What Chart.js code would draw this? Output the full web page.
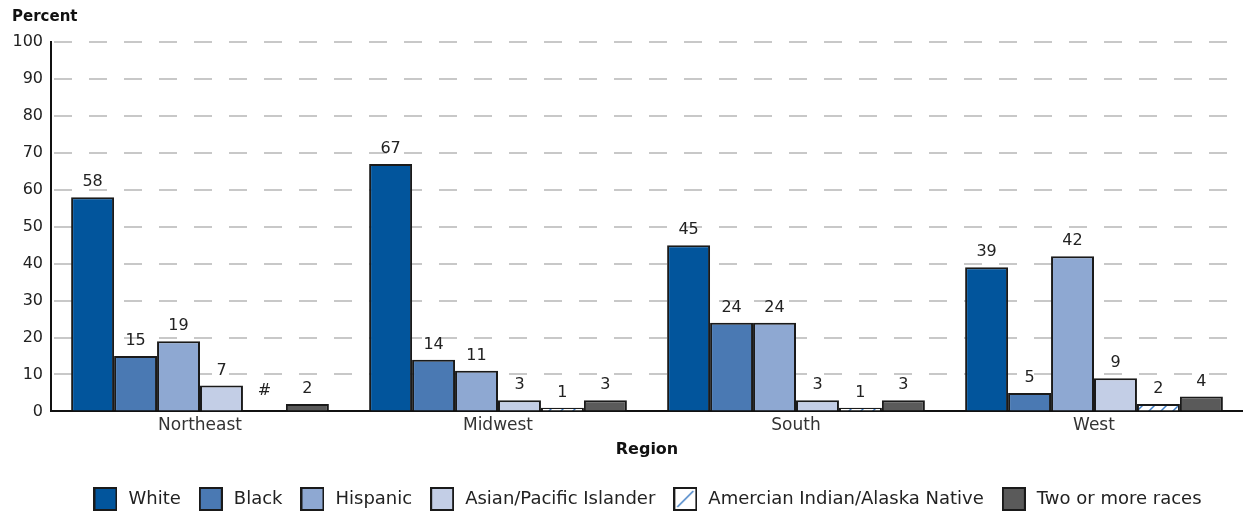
<!DOCTYPE html>
<html>
<head>
<meta charset="utf-8">
<script src="https://cdn.jsdelivr.net/npm/chart.js@4.4.0/dist/chart.umd.min.js"></script>
<style>
  html, body { margin: 0; padding: 0; background: #fff; }
  #wrap { width: 1243px; height: 514px; position: relative; }
</style>
</head>
<body>
<div id="wrap"><canvas id="myChart"></canvas></div>
<script>
// values
const regions = ["Northeast", "Midwest", "South", "West"];
const white = [58, 67, 45, 39];
const black = [15, 14, 24, 5];
const hispanic = [19, 11, 24, 42];
const asian = [7, 3, 3, 9];
const amIndian = [null, 1, 1, 2]; // null = "#", rounds to zero
const twoOrMore = [2, 3, 3, 4];
const yTicks = [0, 10, 20, 30, 40, 50, 60, 70, 80, 90, 100];

const seriesNames = ["White", "Black", "Hispanic", "Asian/Pacific Islander",
  "Amercian Indian/Alaska Native", "Two or more races"];
const seriesData = [white, black, hispanic, asian, amIndian, twoOrMore];
const colors = ["#02559c", "#4a79b3", "#8ea8d2", "#c3cee6", null, "#5a5a5a"];
const hatchBlue = "#3d7cc4";
const edge = "#1a1a1a";

Chart.defaults.font.family = "'DejaVu Sans', sans-serif";
Chart.defaults.color = "#222";

const ctx = document.getElementById("myChart").getContext("2d");

function makeHatch() {
  const c = document.createElement("canvas");
  c.width = 12; c.height = 12;
  const x = c.getContext("2d");
  x.fillStyle = "#fff";
  x.fillRect(0, 0, 12, 12);
  x.strokeStyle = hatchBlue;
  x.lineWidth = 1.5;
  x.beginPath();
  x.moveTo(0, 12); x.lineTo(12, 0);
  x.moveTo(-2, 2); x.lineTo(2, -2);
  x.moveTo(10, 14); x.lineTo(14, 10);
  x.stroke();
  return ctx.createPattern(c, "repeat");
}
const hatch = makeHatch();

function legendIcon(fill, diag) {
  const c = document.createElement("canvas");
  c.width = 24; c.height = 24;
  const x = c.getContext("2d");
  x.fillStyle = fill || "#fff";
  x.fillRect(1, 1, 22, 22);
  if (diag) {
    x.strokeStyle = hatchBlue;
    x.lineWidth = 1.5;
    x.beginPath();
    x.moveTo(4, 20); x.lineTo(20, 4);
    x.stroke();
  }
  x.strokeStyle = edge;
  x.lineWidth = 2;
  x.strokeRect(1, 1, 22, 22);
  return c;
}
const icons = colors.map((c, i) => legendIcon(c, i === 4));

const valueLabels = {
  id: "valueLabels",
  afterDatasetsDraw(chart) {
    const c = chart.ctx;
    const zero = chart.scales.y.getPixelForValue(0);
    c.save();
    c.font = "16px 'DejaVu Sans', sans-serif";
    c.fillStyle = "#222";
    c.textAlign = "center";
    c.textBaseline = "bottom";
    chart.data.datasets.forEach((ds, i) => {
      chart.getDatasetMeta(i).data.forEach((bar, j) => {
        const v = ds.data[j];
        const y = v == null ? zero - 6 : bar.y;
        c.fillText(v == null ? "#" : String(v), bar.x, y - 7);
      });
    });
    c.restore();
  }
};

// nudge the legend down a little and centre it under the plot
const legendShift = {
  id: "legendShift",
  afterLayout(chart) {
    chart.legend.top += 4;
    chart.legend.bottom += 4;
    chart.legend.left += 19;
    chart.legend.right += 19;
  }
};

const data = {
  labels: regions,
  datasets: seriesData.map((d, i) => ({
    label: seriesNames[i],
    data: d,
    backgroundColor: i === 4 ? hatch : colors[i],
    borderColor: edge,
    borderWidth: 2,
    borderSkipped: "start",
    categoryPercentage: 0.865,
    barPercentage: 1.0,
  })),
};

new Chart(ctx, {
  type: "bar",
  data: data,
  plugins: [valueLabels, legendShift],
  options: {
    responsive: true,
    maintainAspectRatio: false,
    animation: false,
    layout: { padding: { left: 12, right: 0, top: 0, bottom: 0 } },
    plugins: {
      title: {
        display: true,
        text: "Percent",
        align: "start",
        color: "#111",
        font: { size: 15, weight: "bold" },
        padding: { top: 8, bottom: 16 },
      },
      legend: {
        position: "bottom",
        labels: {
          usePointStyle: true,
          pointStyleWidth: 28,
          boxHeight: 24,
          padding: 16,
          color: "#222",
          font: { size: 18 },
          generateLabels: (chart) => chart.data.datasets.map((ds, i) => ({
            text: ds.label,
            pointStyle: icons[i],
            fillStyle: colors[i] || "#fff",
            strokeStyle: edge,
            lineWidth: 0,
            hidden: false,
            datasetIndex: i,
            fontColor: "#222",
          })),
        },
      },
      tooltip: { enabled: false },
    },
    scales: {
      x: {
        grid: { display: false, drawTicks: false },
        border: { display: true, color: "#111", width: 2 },
        ticks: { color: "#333", font: { size: 17 }, padding: 4 },
        title: {
          display: true,
          text: "Region",
          color: "#111",
          font: { size: 16, weight: "bold" },
          padding: { top: 0, bottom: 11 },
        },
      },
      y: {
        min: 0,
        max: 100,
        afterBuildTicks: (s) => { s.ticks = yTicks.map((v) => ({ value: v })); },
        afterFit: (s) => { s.width = 39; },
        grid: { color: "#c8c8c8", lineWidth: 2, drawTicks: false },
        border: { display: true, color: "#111", width: 2, dash: [18, 17], dashOffset: -2 },
        ticks: { color: "#222", font: { size: 16 }, padding: 8 },
      },
    },
  },
});
</script>
</body>
</html>
